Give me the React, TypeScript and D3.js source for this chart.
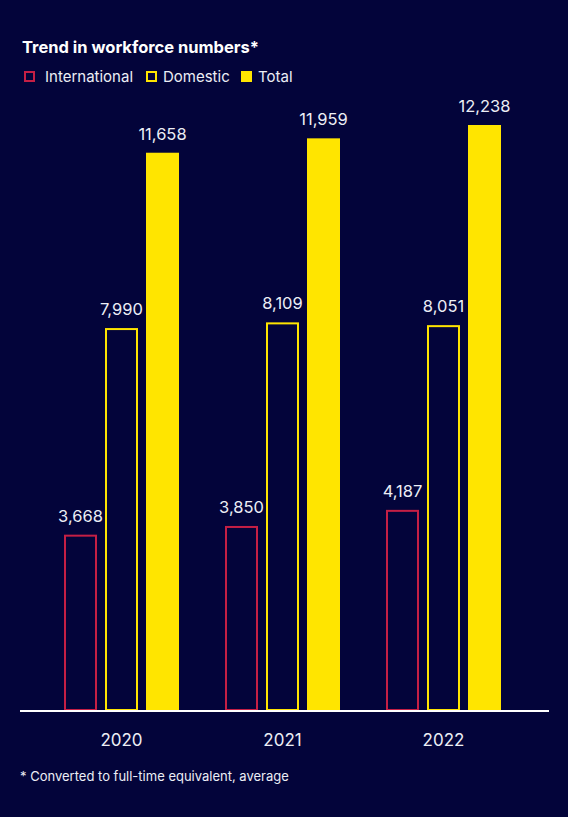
import React from "react";
import * as d3 from "d3";

const years = ["2020", "2021", "2022"];
const series = ["International", "Domestic", "Total"];
const international = [3668, 3850, 4187];
const domestic = [7990, 8109, 8051];
const total = [11658, 11959, 12238];
const title = "Trend in workforce numbers*";
const footnote = "* Converted to full-time equivalent, average";

const W = 568;
const H = 817;
const BG = "#03043a";
const YELLOW = "#ffe500";
const RED = "#c51f45";
const TEXT = "#eceef5";
const FONT = "Inter, 'Noto Sans', sans-serif";

export default function App() {
  const values = [international, domestic, total];
  const baseY = 710;
  const y = d3.scaleLinear().domain([0, 12238]).range([baseY, 125]);
  const xCenter = d3.scalePoint<string>().domain(years).range([121.5, 443.5]);
  const groupW = 115;
  const xInner = d3
    .scaleBand<string>()
    .domain(series)
    .range([-groupW / 2, groupW / 2])
    .paddingInner(0.195)
    .paddingOuter(0);
  const bw = xInner.bandwidth();
  const fmt = d3.format(",");

  const legendItems = [
    { name: "International", sx: 24, tx: 45, stroke: RED, fill: "none" },
    { name: "Domestic", sx: 146, tx: 163, stroke: YELLOW, fill: "none" },
    { name: "Total", sx: 241, tx: 258, stroke: YELLOW, fill: YELLOW },
  ];

  return (
    <svg
      width={W}
      height={H}
      style={{ position: "absolute", left: 0, top: 0, display: "block" }}
      fontFamily={FONT}
    >
      <rect x={0} y={0} width={W} height={H} fill={BG} />
      <text x={22} y={53} fill="#ffffff" fontSize={16.5} fontWeight={700}>
        {title}
      </text>
      {legendItems.map((it) => (
        <g key={it.name}>
          <rect
            x={it.sx + 1}
            y={72}
            width={9}
            height={9}
            fill={it.fill}
            stroke={it.stroke}
            strokeWidth={2}
          />
          <text x={it.tx} y={81.5} fill={TEXT} fontSize={15}>
            {it.name}
          </text>
        </g>
      ))}

      {years.map((yr, i) => {
        const cx = xCenter(yr) as number;
        return (
          <g key={yr}>
            {series.map((s, j) => {
              const v = values[j][i];
              const x0 = cx + (xInner(s) as number);
              const top = y(v);
              const filled = j === 2;
              const stroke = j === 0 ? RED : YELLOW;
              return (
                <g key={s}>
                  {filled ? (
                    <rect x={x0} y={top} width={bw} height={baseY - top} fill={YELLOW} />
                  ) : (
                    <rect
                      x={x0 + 1}
                      y={top + 1}
                      width={bw - 2}
                      height={baseY - top - 1}
                      fill="none"
                      stroke={stroke}
                      strokeWidth={2}
                    />
                  )}
                  <text
                    x={x0 + bw / 2}
                    y={top - 13}
                    textAnchor="middle"
                    fill={TEXT}
                    fontSize={16.5}
                  >
                    {fmt(v)}
                  </text>
                </g>
              );
            })}
            <text x={cx} y={746} textAnchor="middle" fill={TEXT} fontSize={17}>
              {yr}
            </text>
          </g>
        );
      })}

      <line x1={20} x2={549} y1={baseY + 1} y2={baseY + 1} stroke="#ffffff" strokeWidth={2} />

      <text x={20} y={781} fill={TEXT} fontSize={13}>
        {footnote}
      </text>
    </svg>
  );
}
